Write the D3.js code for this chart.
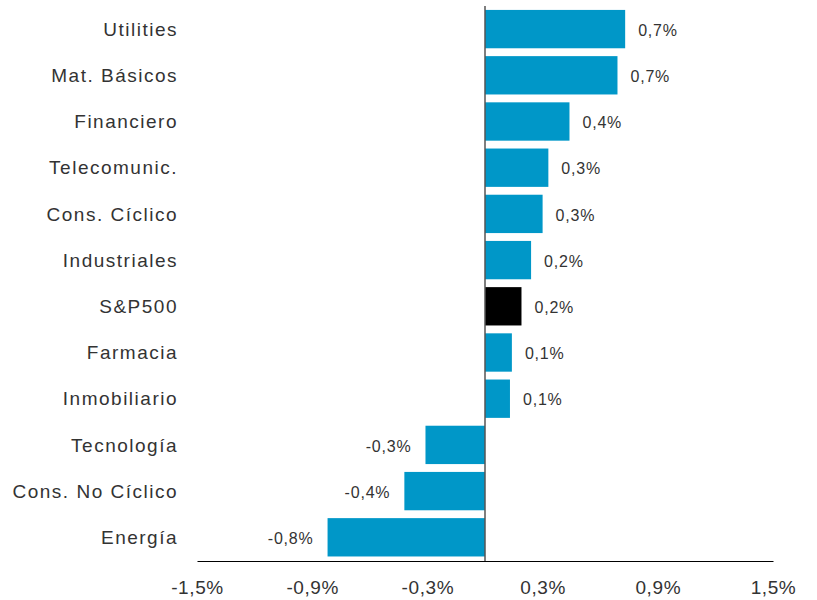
<!DOCTYPE html>
<meta charset="utf-8">
<style>
body { margin: 0; background: #fff; }
.cat { font-family: 'Liberation Sans', Arial, sans-serif; font-size: 19px; fill: #333; letter-spacing: 1.5px; }
.tick text { font-family: 'Liberation Sans', Arial, sans-serif; font-size: 19px; fill: #333; letter-spacing: 0.6px; }
.val { font-family: 'Liberation Sans', Arial, sans-serif; font-size: 16px; fill: #333; letter-spacing: 0.8px; }
.bar { fill: #0097c8; }
.bar.idx { fill: #000; }
</style>
<body>
<script src="https://cdn.jsdelivr.net/npm/d3@7"></script>
<script>
// sector returns (fraction)
var sectors = ["Utilities", "Mat. Básicos", "Financiero", "Telecomunic.", "Cons. Cíclico",
               "Industriales", "S&P500", "Farmacia", "Inmobiliario", "Tecnología",
               "Cons. No Cíclico", "Energía"];
var values = [0.0073, 0.0069, 0.0044, 0.0033, 0.0030, 0.0024, 0.0019, 0.0014, 0.0013,
              -0.0031, -0.0042, -0.0082];
var ticks = [-0.015, -0.009, -0.003, 0.003, 0.009, 0.015];

var width = 817, height = 600;
var svg = d3.select("body").append("svg")
    .attr("width", width)
    .attr("height", height);

var x = d3.scaleLinear().domain([-0.015, 0.015]).range([197, 773]);
var y = d3.scaleBand().domain(sectors).range([6, 560.4])
    .paddingInner(0.17).paddingOuter(0.085);

var fmt = function(v) { return d3.format(".1%")(v).replace(".", ",").replace("\u2212", "-"); };

var data = sectors.map(function(s, i) { return {name: s, v: values[i]}; });

// bars
svg.selectAll(".bar")
    .data(data)
  .enter().append("rect")
    .attr("class", function(d) { return d.name == "S&P500" ? "bar idx" : "bar"; })
    .attr("x", function(d) { return x(Math.min(0, d.v)); })
    .attr("width", function(d) { return Math.abs(x(d.v) - x(0)); })
    .attr("y", function(d) { return y(d.name); })
    .attr("height", y.bandwidth());

// value labels
svg.selectAll(".val")
    .data(data)
  .enter().append("text")
    .attr("class", "val")
    .attr("x", function(d) { return d.v >= 0 ? x(d.v) + 13 : x(d.v) - 14; })
    .attr("y", function(d) { return y(d.name) + y.bandwidth() / 2 + 1; })
    .attr("dy", "0.35em")
    .style("text-anchor", function(d) { return d.v >= 0 ? "start" : "end"; })
    .text(function(d) { return fmt(d.v); });

// category labels
svg.selectAll(".cat")
    .data(sectors)
  .enter().append("text")
    .attr("class", "cat")
    .attr("x", 178)
    .attr("y", function(d) { return y(d) + y.bandwidth() / 2; })
    .attr("dy", "0.35em")
    .style("text-anchor", "end")
    .text(function(d) { return d; });

// x axis
var xAxis = svg.append("g")
    .attr("transform", "translate(0,561)")
    .call(d3.axisBottom(x).tickValues(ticks).tickSize(0).tickPadding(20)
        .tickFormat(function(d) { return fmt(d); }));
xAxis.select(".domain").attr("stroke", "#000").attr("stroke-width", 1.2);

// zero line
svg.append("line")
    .attr("x1", x(0)).attr("x2", x(0))
    .attr("y1", 6).attr("y2", 561)
    .attr("stroke", "#555")
    .attr("stroke-width", 1.5);
</script>
</body>
